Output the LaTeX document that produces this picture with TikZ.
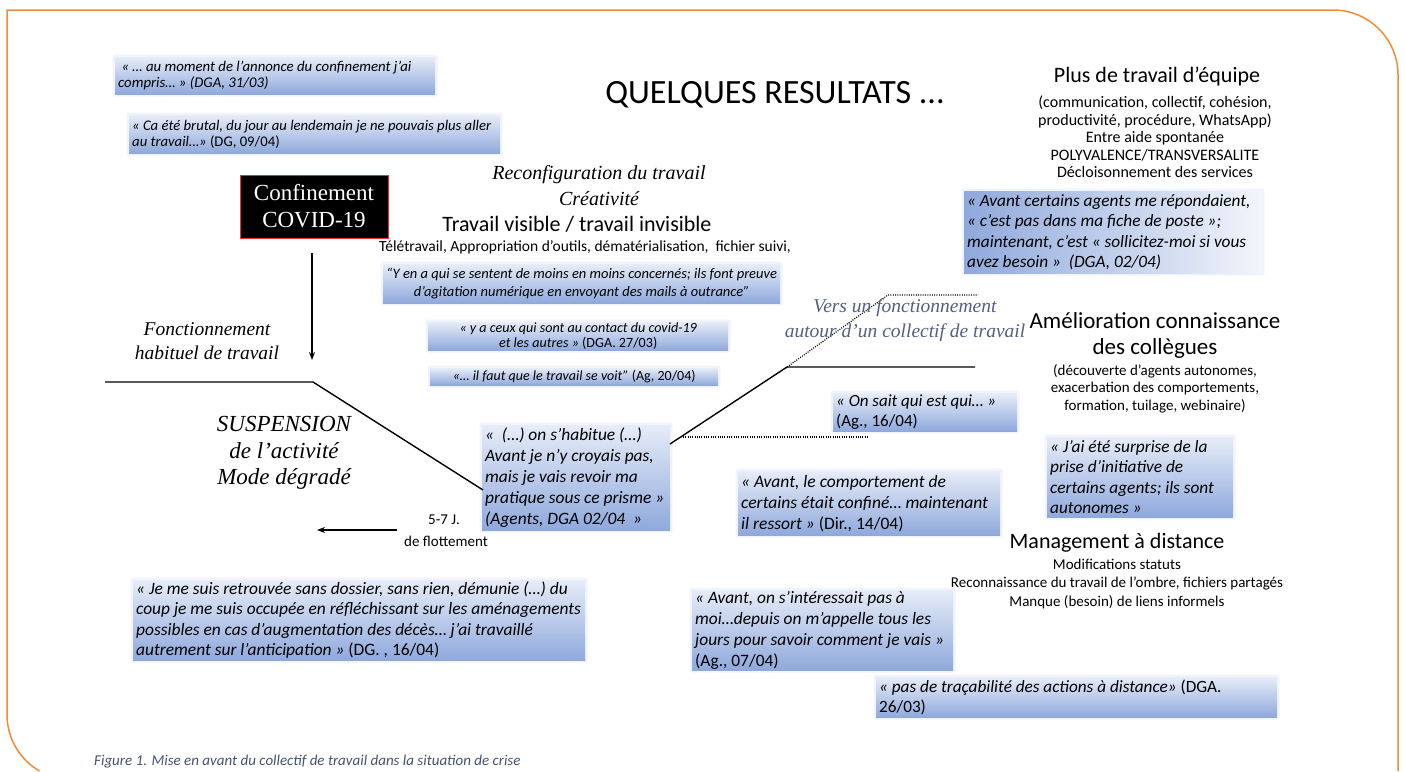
\documentclass[tikz,border=0pt]{standalone}
\usepackage{fontspec}
\setmainfont{Carlito}
\newfontfamily\tms{Liberation Serif}
\usetikzlibrary{arrows.meta}
\definecolor{qtop}{RGB}{230,236,248}
\definecolor{qbot}{RGB}{143,169,220}
\definecolor{qwhite}{RGB}{242,245,251}
\definecolor{orng}{RGB}{240,140,55}
\definecolor{slate}{RGB}{82,96,128}
\definecolor{capc}{RGB}{68,84,106}
\definecolor{confred}{RGB}{235,50,50}
\newcommand\qf[2]{\fontsize{#1}{#2}\selectfont\itshape}
% left-aligned quote box
\newcommand\qbox[9]{%
  \pgfmathsetmacro\qw{#4-#2}\pgfmathsetmacro\qh{#5-#3}%
  \fill[qbot, opacity=0.12, rounded corners=2pt] (#2-2.5,#3-2.5) rectangle (#4+2.5,#5+2.5);
  \node[quote, minimum width=\qw pt, minimum height=\qh pt, #8] (#1) at (#2,#3) {};
  \node[inner sep=0pt, anchor=west, align=left, font=\qf{#6}{#7}] (#1t) at ([xshift=3pt]#1.west) {#9};}
% centred quote box
\newcommand\qboxc[9]{%
  \pgfmathsetmacro\qw{#4-#2}\pgfmathsetmacro\qh{#5-#3}%
  \fill[qbot, opacity=0.12, rounded corners=2pt] (#2-2.5,#3-2.5) rectangle (#4+2.5,#5+2.5);
  \node[quote, minimum width=\qw pt, minimum height=\qh pt, #8] (#1) at (#2,#3) {};
  \node[inner sep=0pt, anchor=center, align=center, font=\qf{#6}{#7}] (#1t) at (#1.center) {#9};}
\begin{document}
\begin{tikzpicture}[x=1pt,y=-1pt,
  quote/.style={anchor=north west, inner sep=0pt, draw=none},
  vshade/.style={top color=qtop, bottom color=qbot},
  hshade/.style={left color=qbot, right color=qwhite},
  ln/.style={line width=1.4pt, black},
  dl/.style={line width=1.2pt, black, dash pattern=on 1pt off 1.3pt},
  arr/.style={line width=1.2pt, -{Stealth[length=8pt,width=6pt]}},
  lbl/.style={align=center, inner sep=0pt},
  ]
\useasboundingbox (0,0) rectangle (1405,771);
% orange frame
\draw[orng, line width=1.5pt] (39.5,771) arc[start angle=120, end angle=180, radius=65] -- (7,10) -- (1333,10) arc[start angle=270, end angle=360, radius=65] -- (1398,771);

% title
\node[lbl, font=\fontsize{34}{34}\selectfont] (title) at (775,95) {QUELQUES RESULTATS ...};

% top-left quotes
\qbox{qa}{115}{57}{435}{94}{14.8}{16}{vshade}{~« … au moment de l’annonce du confinement j’ai\\compris… » (DGA, 31/03)}
\qbox{qb}{129}{115}{500}{153}{14.7}{15.5}{vshade}{« Ca été brutal, du jour au lendemain je ne pouvais plus aller\\au travail…» {\upshape(DG, 09/04)}}

% confinement box
\node[fill=black, draw=confred, line width=1pt, minimum width=148pt, minimum height=63pt, inner sep=0pt, align=center, text=white, font=\tms\fontsize{23}{27}\selectfont] (conf) at (314,206.5) {Confinement\\COVID-19};
\coordinate (arrE) at (312,360);
\draw[arr] ([yshift=-14pt]conf.south -| arrE) -- (arrE);

\node[lbl, font=\tms\itshape\fontsize{19.5}{24}\selectfont] (fonc) at (207,341) {Fonctionnement\\habituel de travail};
\node[lbl, font=\tms\itshape\fontsize{23}{26.5}\selectfont] (susp) at (284,453) {SUSPENSION\\de l’activité\\Mode dégradé};

% middle texts
\node[lbl, font=\tms\itshape\fontsize{20}{26}\selectfont] (reconf) at (599,186) {Reconfiguration du travail\\Créativité};
\node[lbl, font=\fontsize{22}{22}\selectfont] (visible) at (577,224) {Travail visible / travail invisible};
\node[lbl, font=\fontsize{15.5}{16}\selectfont] (tele) at (585,247) {Télétravail, Appropriation d’outils, dématérialisation,~ fichier suivi,};
\qboxc{qk}{383}{264}{780}{303}{14.5}{18}{vshade}{“Y en a qui se sentent de moins en moins concernés; ils font preuve\\d’agitation numérique en envoyant des mails à outrance”}
\qboxc{ql}{428}{322}{728}{350}{14.1}{15}{vshade}{« y a ceux qui sont au contact du covid-19\\et les autres » {\upshape(DGA. 27/03)}}
\qboxc{qm}{430}{368}{718}{385}{14}{15}{vshade}{«… il faut que le travail se voit” {\upshape(Ag, 20/04)}}

% main line
\coordinate (h0) at (105,382);
\coordinate (h1) at (313,382);
\qbox{qc}{482}{425}{670}{530}{17.4}{21}{vshade}{«~ (…) on s’habitue (…)\\Avant je n’y croyais pas,\\mais je vais revoir ma\\pratique sous ce prisme »\\(Agents, DGA 02/04~ »}
\coordinate (c0) at (483,490);
\draw[ln] (h0) -- (h1) -- (c0);

\coordinate (c1) at (670,444);
\coordinate (k) at (787,367);
\coordinate (kE) at (975,367);
\coordinate (t) at (888,295);
\coordinate (tE) at (978,295);
\coordinate (ds) at (683,437);
\coordinate (dE) at (868,437);
\draw[ln] (c1) -- (k) -- (kE);
\draw[dl] (k) -- (t) -- (tE);
\draw[dl] (ds) -- (dE);

\node[lbl, text=slate, font=\tms\itshape\fontsize{19.5}{25}\selectfont] (vers) at (905,320) {Vers un fonctionnement\\autour d’un collectif de travail};

% flottement
\node[lbl, font=\fontsize{15}{15}\selectfont] (f1) at (444,520) {5-7 J.};
\node[lbl, font=\fontsize{15}{15}\selectfont] (f2) at (446,541) {de flottement};
\coordinate (fa) at (397,530);
\coordinate (fb) at (317,530);
\draw[arr] (fa) -- (fb);

\qbox{qf}{133}{580}{585}{660}{17.4}{20.5}{vshade}{« Je me suis retrouvée sans dossier, sans rien, démunie (…) du\\coup je me suis occupée en réfléchissant sur les aménagements\\possibles en cas d’augmentation des décès… j’ai travaillé\\autrement sur l’anticipation » {\upshape(DG. , 16/04)}}

% right column
\node[lbl, font=\fontsize{22}{22}\selectfont] (plus) at (1157,77) {Plus de travail d’équipe};
\node[lbl, font=\fontsize{16}{17.5}\selectfont] (plusd) at (1155,137) {(communication, collectif, cohésion,\\productivité, procédure, WhatsApp)\\Entre aide spontanée\\POLYVALENCE/TRANSVERSALITE\\Décloisonnement des services};
\qbox{qh}{964}{191}{1262}{273}{17.3}{20.5}{hshade}{« Avant certains agents me répondaient,\\« c’est pas dans ma fiche de poste »;\\maintenant, c’est « sollicitez-moi si vous\\avez besoin »~ (DGA, 02/04)}

\node[lbl, font=\fontsize{23}{26}\selectfont] (amel) at (1155,335) {Amélioration connaissance\\des collègues};
\node[lbl, font=\fontsize{15}{17.5}\selectfont] (ameld) at (1155,388.5) {(découverte d’agents autonomes,\\exacerbation des comportements,\\formation, tuilage, webinaire)};
\qbox{qj}{833}{393}{1017}{431}{17}{20.5}{vshade}{« On sait qui est qui… »\\{\upshape(Ag., 16/04)}}
\qbox{qi}{1047}{437}{1233}{517}{17.3}{20.5}{vshade}{« J’ai été surprise de la\\prise d’initiative de\\certains agents; ils sont\\autonomes »}
\qbox{qd}{738}{471}{1000}{535}{17.5}{21}{vshade}{« Avant, le comportement de\\certains était confiné… maintenant\\il ressort » {\upshape(Dir., 14/04)}}

\node[lbl, font=\fontsize{22}{22}\selectfont] (mgmt) at (1117,543) {Management à distance};
\node[lbl, font=\fontsize{15}{18.5}\selectfont] (mgmtd) at (1117,583.5) {Modifications statuts\\Reconnaissance du travail de l’ombre, fichiers partagés\\Manque (besoin) de liens informels};
\qbox{qe}{692}{590}{953}{670}{17.4}{21}{vshade}{« Avant, on s’intéressait pas à\\moi…depuis on m’appelle tous les\\jours pour savoir comment je vais »\\{\upshape(Ag., 07/04)}}
\qbox{qg}{876}{677}{1277}{717}{17.2}{19.5}{vshade}{« pas de traçabilité des actions à distance» {\upshape(DGA.}\\{\upshape 26/03)}}

% caption
\node[anchor=west, inner sep=0pt, text=capc, font=\fontsize{15}{15}\selectfont\itshape] (cap) at (94,762) {Figure 1. Mise en avant du collectif de travail dans la situation de crise};
\end{tikzpicture}
\end{document}
